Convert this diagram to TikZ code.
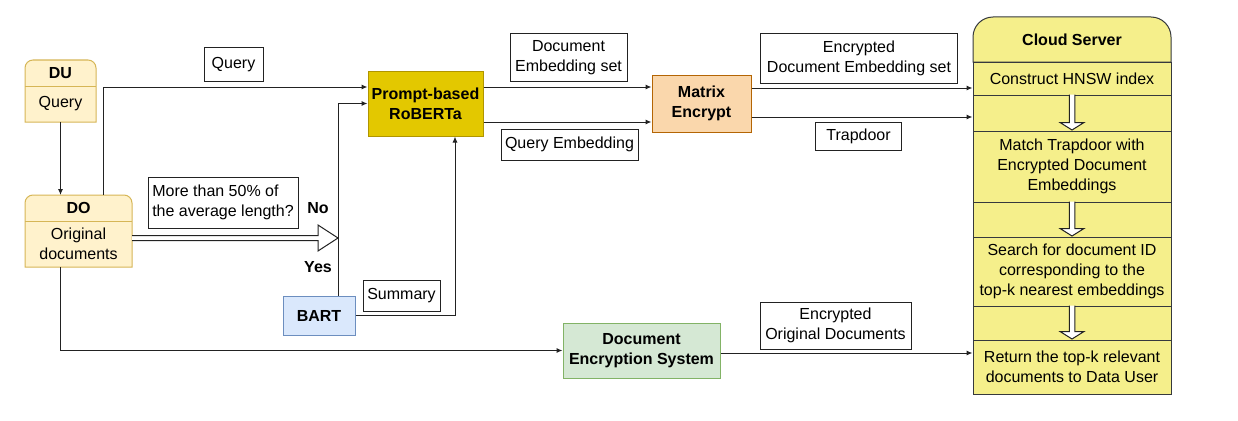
\documentclass[tikz,border=0pt]{standalone}
\usepackage{fontspec}
\setmainfont{Liberation Sans}
\usetikzlibrary{calc,arrows.meta}

\definecolor{actorfill}{HTML}{FFF2CC}
\definecolor{actorline}{HTML}{D6B656}
\definecolor{robfill}{HTML}{E3C800}
\definecolor{robline}{HTML}{B09500}
\definecolor{encfill}{HTML}{FAD7AC}
\definecolor{encline}{HTML}{B46504}
\definecolor{bartfill}{HTML}{DAE8FC}
\definecolor{bartline}{HTML}{6C8EBF}
\definecolor{desfill}{HTML}{D5E8D4}
\definecolor{desline}{HTML}{82B366}
\definecolor{cloudfill}{HTML}{F5EF8B}
\definecolor{cloudline}{HTML}{36393D}
\definecolor{wire}{HTML}{222222}

\begin{document}
\begin{tikzpicture}[x=1pt,y=-1pt]
\tikzset{txt/.style = {font=\fontsize{16}{20}\selectfont, align=center, inner sep=0pt}}
\tikzset{bold/.style = {txt, font=\fontsize{16}{20}\selectfont\bfseries}}
\tikzset{lbl/.style = {txt, draw=wire, fill=white, line width=1pt}}
\tikzset{proc/.style = {bold, draw, line width=1pt}}
\tikzset{frame/.style = {draw=none, inner sep=0pt, outer sep=0pt}}
\tikzset{actor/.style = {draw=actorline, fill=actorfill, line width=1pt}}
\tikzset{row/.style = {txt, draw=cloudline, fill=cloudfill, line width=1pt, minimum width=198pt}}
\tikzset{edge/.style = {->, >={Latex[length=6pt,width=5pt]}, draw=wire, line width=1pt}}
\tikzset{hollow/.style = {draw=wire, fill=white, line width=1pt, line join=miter}}
\useasboundingbox (0,0) rectangle (1238,420);

% data user and data owner
\node[frame, minimum width=71pt, minimum height=62pt] (du) at (60.5,91) {};
\draw[actor] (du.south west) -- ([yshift=-8pt]du.north west) arc[start angle=180,end angle=90,radius=8pt]
  -- ([xshift=-8pt]du.north east) arc[start angle=90,end angle=0,radius=8pt] -- (du.south east) -- cycle;
\draw[actor] ([yshift=-26pt]du.north west) -- ([yshift=-26pt]du.north east);
\node[bold] (dutitle) at ([yshift=-13pt]du.north) {DU};
\node[txt] (duquery) at ([yshift=18pt]du.south) {Query};

\node[frame, minimum width=107pt, minimum height=72pt] (do) at (78.5,231) {};
\draw[actor] (do.south west) -- ([yshift=-8pt]do.north west) arc[start angle=180,end angle=90,radius=8pt]
  -- ([xshift=-8pt]do.north east) arc[start angle=90,end angle=0,radius=8pt] -- (do.south east) -- cycle;
\draw[actor] ([yshift=-26pt]do.north west) -- ([yshift=-26pt]do.north east);
\node[bold] (dotitle) at ([yshift=-13pt]do.north) {DO};
\node[txt] (dodocs) at ([yshift=23pt]do.south) {Original\\documents};

% models
\node[proc, draw=robline, fill=robfill, minimum width=115pt, minimum height=65pt] (prompt) at (425.5,103.5) {Prompt-based\\RoBERTa};
\node[proc, draw=bartline, fill=bartfill, minimum width=72pt, minimum height=39pt] (bart) at (319,315.5) {BART};
\node[proc, draw=encline, fill=encfill, minimum width=99pt, minimum height=57pt] (matrix) at (701.5,103.5) {Matrix\\Encrypt};
\node[proc, draw=desline, fill=desfill, minimum width=157pt, minimum height=55pt] (des) at (641.5,350.5) {Document\\Encryption System};

% cloud server
\node[frame, minimum width=198pt, minimum height=45pt] (cloud) at (1072,39.5) {};
\draw[row] (cloud.south west) -- ([yshift=-20pt]cloud.north west) arc[start angle=180,end angle=90,radius=20pt]
  -- ([xshift=-20pt]cloud.north east) arc[start angle=90,end angle=0,radius=20pt] -- (cloud.south east) -- cycle;
\node[bold] (cstitle) at (cloud) {Cloud Server};
\node[row, minimum height=33pt] (hnsw) at (1072,78.5) {Construct HNSW index};
\node[row, minimum height=36pt] (gap1) at (1072,113) {};
\node[row, minimum height=71pt] (match) at (1072,166.5) {Match Trapdoor with\\Encrypted Document\\Embeddings};
\node[row, minimum height=35pt] (gap2) at (1072,219.5) {};
\node[row, minimum height=69pt] (search) at (1072,271.5) {Search for document ID\\corresponding to the\\top-k nearest embeddings};
\node[row, minimum height=34pt] (gap3) at (1072,323) {};
\node[row, minimum height=54pt] (ret) at (1072,367) {Return the top-k relevant\\documents to Data User};
\foreach \g in {gap1,gap2,gap3}
  \draw[hollow] ($(\g.north)+(-2.75,0)$) -- ($(\g.south)+(-2.75,-9)$) -- ($(\g.south)+(-12,-9)$)
    -- ($(\g.south)+(0,-1.5)$) -- ($(\g.south)+(12,-9)$) -- ($(\g.south)+(2.75,-9)$) -- ($(\g.north)+(2.75,0)$);

% labels
\node[lbl, minimum width=59pt, minimum height=33pt] (lquery) at (233.5,64.5) {Query};
\node[lbl, align=left, minimum width=150pt, minimum height=51pt] (lcond) at (223,202.5) {More than 50\% of\\the average length?};
\node[bold] (lno) at (318,208) {No};
\node[bold] (lyes) at (318,267) {Yes};
\node[lbl, minimum width=77pt, minimum height=31pt] (lsum) at (401.5,295.5) {Summary};
\node[lbl, minimum width=117pt, minimum height=47pt] (ldocemb) at (568.5,57.5) {Document\\Embedding set};
\node[lbl, minimum width=137pt, minimum height=31pt] (lqemb) at (569.5,144.5) {Query Embedding};
\node[lbl, minimum width=197pt, minimum height=49pt] (lencemb) at (859,58.5) {Encrypted\\Document Embedding set};
\node[lbl, minimum width=86pt, minimum height=28pt] (ltrap) at (858.5,136) {Trapdoor};
\node[lbl, minimum width=151pt, minimum height=47pt] (lencdoc) at (835.5,325.5) {Encrypted\\Original Documents};

% connectors
\coordinate (split) at (338,238);
\draw[edge] (du.south) -- (du.south |- do.north);
\draw[edge] ([xshift=24.5pt]do.north) |- ([yshift=16.5pt]prompt.west);
\draw[hollow] ($(do.east |- split)+(0,-2.5)$) -- ($(split)+(-20,-2.5)$) -- ($(split)+(-20,-13)$) -- (split)
  -- ($(split)+(-20,13)$) -- ($(split)+(-20,2.5)$) -- ($(do.east |- split)+(0,2.5)$);
\draw[edge] (bart.north -| split) |- (prompt.west);
\draw[edge] (bart.east) -| ([xshift=29.5pt]prompt.south);
\draw[edge] ([yshift=16.5pt]prompt.east) -- ([yshift=16.5pt]prompt.east -| matrix.west);
\draw[edge] ([yshift=-18.5pt]prompt.east) -- ([yshift=-18.5pt]prompt.east -| matrix.west);
\draw[edge] ([yshift=15.5pt]matrix.east) -- ([yshift=15.5pt]matrix.east -| hnsw.west);
\draw[edge] ([yshift=-13.5pt]matrix.east) -- ([yshift=-13.5pt]matrix.east -| gap1.west);
\draw[edge] (do.south -| du.south) |- (des.west);
\draw[edge] ([yshift=-2.5pt]des.east) -- ([yshift=-2.5pt]des.east -| ret.west);
\end{tikzpicture}
\end{document}
